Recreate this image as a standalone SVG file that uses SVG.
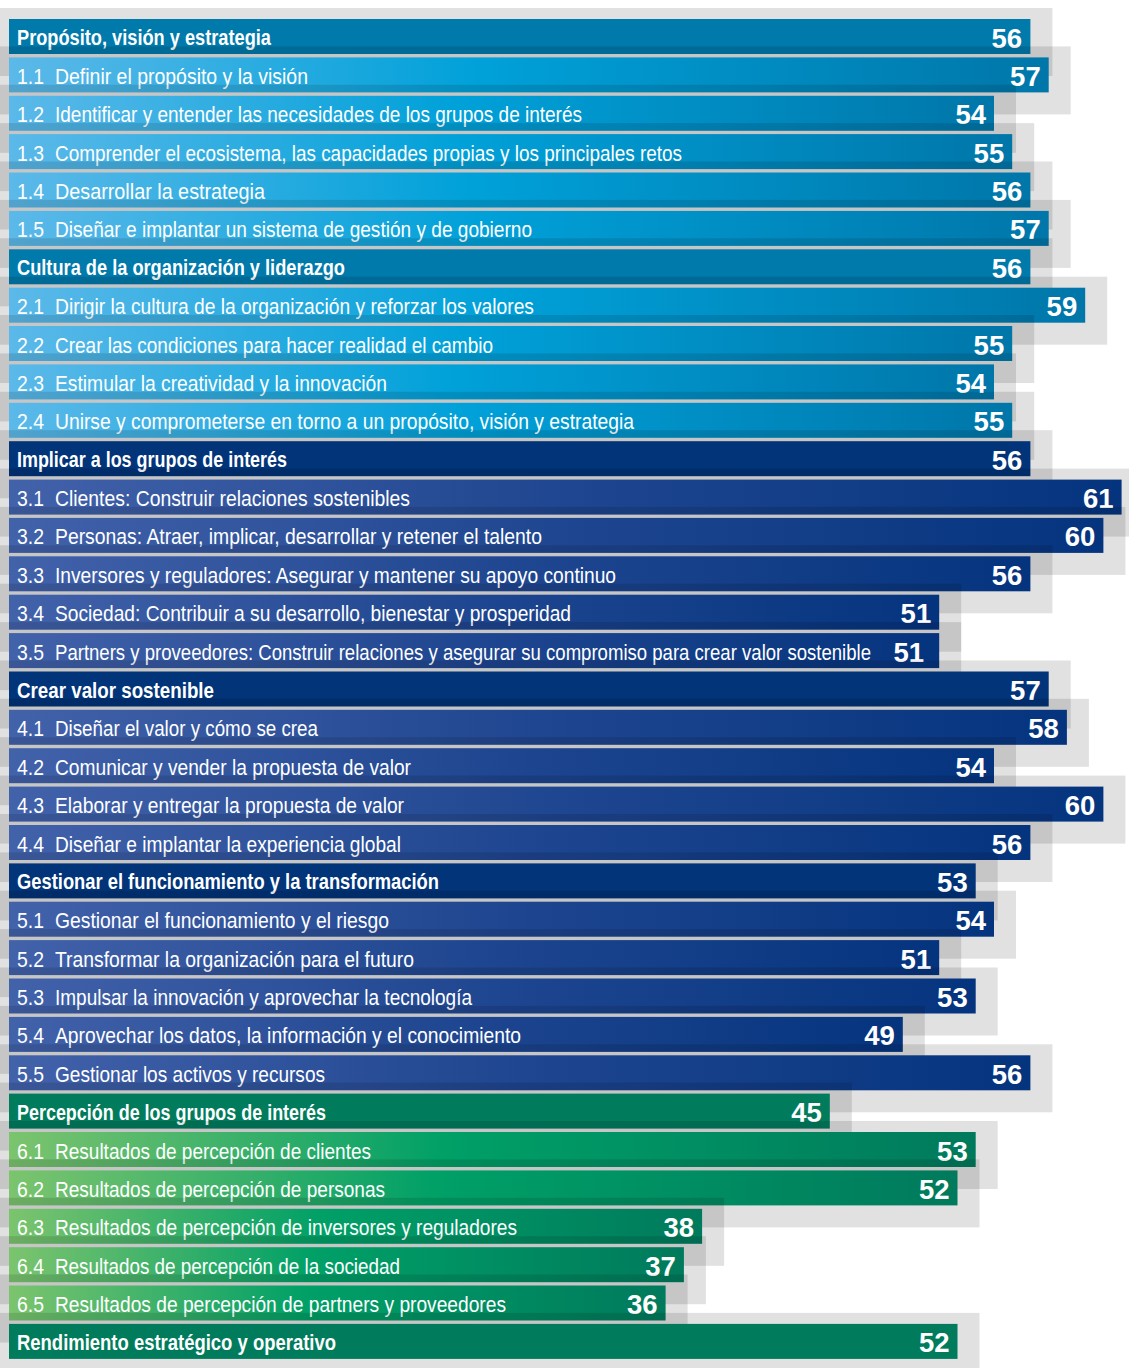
<svg xmlns="http://www.w3.org/2000/svg" width="1129" height="1368" viewBox="0 0 1129 1368">
<defs>
<linearGradient id="gBlue" x1="0" y1="0" x2="1" y2="0">
<stop offset="0" stop-color="#5cb9e9"/>
<stop offset="0.45" stop-color="#00a1d9"/>
<stop offset="1" stop-color="#0076a9"/>
</linearGradient>
<linearGradient id="gNavy" x1="0" y1="0" x2="1" y2="0">
<stop offset="0" stop-color="#4262aa"/>
<stop offset="0.5" stop-color="#1f4690"/>
<stop offset="1" stop-color="#05347e"/>
</linearGradient>
<linearGradient id="gGreen" x1="0" y1="0" x2="1" y2="0">
<stop offset="0" stop-color="#7cc46e"/>
<stop offset="0.45" stop-color="#00a067"/>
<stop offset="1" stop-color="#007a5c"/>
</linearGradient>
<style>
.sh{fill:#000;fill-opacity:0.118}
.h1{fill:#0079ab}
.h3{fill:#013478}
.h6{fill:#007b5c}
.b1{fill:url(#gBlue)}
.b3{fill:url(#gNavy)}
.b6{fill:url(#gGreen)}
text{fill:#fff;font-family:"Liberation Sans",Arial,sans-serif}
.ht{font-weight:bold;font-size:21.5px}
.lt{font-size:22px}
.nm{font-weight:bold;font-size:27.5px;text-anchor:end}
</style>
</defs>
<g id="connectors"/>
<g id="r0"><rect class="sh" x="0" y="8" width="1052.4" height="68"/><rect class="h1" x="9" y="19" width="1021.4" height="35"/><text class="ht" x="17" y="45" textLength="254" lengthAdjust="spacingAndGlyphs">Propósito, visión y estrategia</text><text class="nm" x="1022" y="47.5">56</text></g>
<g id="r1"><rect class="sh" x="0" y="46.4" width="1070.7" height="68"/><rect class="b1" x="9" y="57.4" width="1039.7" height="35"/><text class="lt" x="17" y="83.9" textLength="27" lengthAdjust="spacingAndGlyphs">1.1</text><text class="lt" x="55" y="83.9" textLength="253" lengthAdjust="spacingAndGlyphs">Definir el propósito y la visión</text><text class="nm" x="1040.7" y="85.9">57</text></g>
<g id="r2"><rect class="sh" x="0" y="84.8" width="1016" height="68"/><rect class="b1" x="9" y="95.8" width="985" height="35"/><text class="lt" x="17" y="122.3" textLength="27" lengthAdjust="spacingAndGlyphs">1.2</text><text class="lt" x="55" y="122.3" textLength="527" lengthAdjust="spacingAndGlyphs">Identificar y entender las necesidades de los grupos de interés</text><text class="nm" x="986" y="124.3">54</text></g>
<g id="r3"><rect class="sh" x="0" y="123.1" width="1034.2" height="68"/><rect class="b1" x="9" y="134.1" width="1003.2" height="35"/><text class="lt" x="17" y="160.6" textLength="27" lengthAdjust="spacingAndGlyphs">1.3</text><text class="lt" x="55" y="160.6" textLength="627" lengthAdjust="spacingAndGlyphs">Comprender el ecosistema, las capacidades propias y los principales retos</text><text class="nm" x="1004.2" y="162.6">55</text></g>
<g id="r4"><rect class="sh" x="0" y="161.5" width="1052.4" height="68"/><rect class="b1" x="9" y="172.5" width="1021.4" height="35"/><text class="lt" x="17" y="199" textLength="27" lengthAdjust="spacingAndGlyphs">1.4</text><text class="lt" x="55" y="199" textLength="210" lengthAdjust="spacingAndGlyphs">Desarrollar la estrategia</text><text class="nm" x="1022.4" y="201">56</text></g>
<g id="r5"><rect class="sh" x="0" y="199.9" width="1070.7" height="68"/><rect class="b1" x="9" y="210.9" width="1039.7" height="35"/><text class="lt" x="17" y="237.4" textLength="27" lengthAdjust="spacingAndGlyphs">1.5</text><text class="lt" x="55" y="237.4" textLength="477" lengthAdjust="spacingAndGlyphs">Diseñar e implantar un sistema de gestión y de gobierno</text><text class="nm" x="1040.7" y="239.4">57</text></g>
<g id="r6"><rect class="sh" x="0" y="238.3" width="1052.4" height="68"/><rect class="h1" x="9" y="249.3" width="1021.4" height="35"/><text class="ht" x="17" y="275.3" textLength="328" lengthAdjust="spacingAndGlyphs">Cultura de la organización y liderazgo</text><text class="nm" x="1022.4" y="277.8">56</text></g>
<g id="r7"><rect class="sh" x="0" y="276.7" width="1107.2" height="68"/><rect class="b1" x="9" y="287.7" width="1076.2" height="35"/><text class="lt" x="17" y="314.2" textLength="27" lengthAdjust="spacingAndGlyphs">2.1</text><text class="lt" x="55" y="314.2" textLength="479" lengthAdjust="spacingAndGlyphs">Dirigir la cultura de la organización y reforzar los valores</text><text class="nm" x="1077.2" y="316.2">59</text></g>
<g id="r8"><rect class="sh" x="0" y="315" width="1034.2" height="68"/><rect class="b1" x="9" y="326" width="1003.2" height="35"/><text class="lt" x="17" y="352.5" textLength="27" lengthAdjust="spacingAndGlyphs">2.2</text><text class="lt" x="55" y="352.5" textLength="438" lengthAdjust="spacingAndGlyphs">Crear las condiciones para hacer realidad el cambio</text><text class="nm" x="1004.2" y="354.5">55</text></g>
<g id="r9"><rect class="sh" x="0" y="353.4" width="1016" height="68"/><rect class="b1" x="9" y="364.4" width="985" height="35"/><text class="lt" x="17" y="390.9" textLength="27" lengthAdjust="spacingAndGlyphs">2.3</text><text class="lt" x="55" y="390.9" textLength="332" lengthAdjust="spacingAndGlyphs">Estimular la creatividad y la innovación</text><text class="nm" x="986" y="392.9">54</text></g>
<g id="r10"><rect class="sh" x="0" y="391.8" width="1034.2" height="68"/><rect class="b1" x="9" y="402.8" width="1003.2" height="35"/><text class="lt" x="17" y="429.3" textLength="27" lengthAdjust="spacingAndGlyphs">2.4</text><text class="lt" x="55" y="429.3" textLength="579" lengthAdjust="spacingAndGlyphs">Unirse y comprometerse en torno a un propósito, visión y estrategia</text><text class="nm" x="1004.2" y="431.3">55</text></g>
<g id="r11"><rect class="sh" x="0" y="430.2" width="1052.4" height="68"/><rect class="h3" x="9" y="441.2" width="1021.4" height="35"/><text class="ht" x="17" y="467.2" textLength="270" lengthAdjust="spacingAndGlyphs">Implicar a los grupos de interés</text><text class="nm" x="1022.4" y="469.7">56</text></g>
<g id="r12"><rect class="sh" x="0" y="468.6" width="1143.6" height="68"/><rect class="b3" x="9" y="479.6" width="1112.6" height="35"/><text class="lt" x="17" y="506.1" textLength="27" lengthAdjust="spacingAndGlyphs">3.1</text><text class="lt" x="55" y="506.1" textLength="355" lengthAdjust="spacingAndGlyphs">Clientes: Construir relaciones sostenibles</text><text class="nm" x="1113.6" y="508.1">61</text></g>
<g id="r13"><rect class="sh" x="0" y="506.9" width="1125.4" height="68"/><rect class="b3" x="9" y="517.9" width="1094.4" height="35"/><text class="lt" x="17" y="544.4" textLength="27" lengthAdjust="spacingAndGlyphs">3.2</text><text class="lt" x="55" y="544.4" textLength="487" lengthAdjust="spacingAndGlyphs">Personas: Atraer, implicar, desarrollar y retener el talento</text><text class="nm" x="1095.4" y="546.4">60</text></g>
<g id="r14"><rect class="sh" x="0" y="545.3" width="1052.4" height="68"/><rect class="b3" x="9" y="556.3" width="1021.4" height="35"/><text class="lt" x="17" y="582.8" textLength="27" lengthAdjust="spacingAndGlyphs">3.3</text><text class="lt" x="55" y="582.8" textLength="561" lengthAdjust="spacingAndGlyphs">Inversores y reguladores: Asegurar y mantener su apoyo continuo</text><text class="nm" x="1022.4" y="584.8">56</text></g>
<g id="r15"><rect class="sh" x="0" y="583.7" width="961.2" height="68"/><rect class="b3" x="9" y="594.7" width="930.2" height="35"/><text class="lt" x="17" y="621.2" textLength="27" lengthAdjust="spacingAndGlyphs">3.4</text><text class="lt" x="55" y="621.2" textLength="516" lengthAdjust="spacingAndGlyphs">Sociedad: Contribuir a su desarrollo, bienestar y prosperidad</text><text class="nm" x="931.2" y="623.2">51</text></g>
<g id="r16"><rect class="sh" x="0" y="622.1" width="961.2" height="68"/><rect class="b3" x="9" y="633.1" width="930.2" height="35"/><text class="lt" x="17" y="659.6" textLength="27" lengthAdjust="spacingAndGlyphs">3.5</text><text class="lt" x="55" y="659.6" textLength="816" lengthAdjust="spacingAndGlyphs">Partners y proveedores: Construir relaciones y asegurar su compromiso para crear valor sostenible</text><text class="nm" x="924" y="661.6">51</text></g>
<g id="r17"><rect class="sh" x="0" y="660.5" width="1070.7" height="68"/><rect class="h3" x="9" y="671.5" width="1039.7" height="35"/><text class="ht" x="17" y="697.5" textLength="197" lengthAdjust="spacingAndGlyphs">Crear valor sostenible</text><text class="nm" x="1040.7" y="700">57</text></g>
<g id="r18"><rect class="sh" x="0" y="698.8" width="1088.9" height="68"/><rect class="b3" x="9" y="709.8" width="1057.9" height="35"/><text class="lt" x="17" y="736.3" textLength="27" lengthAdjust="spacingAndGlyphs">4.1</text><text class="lt" x="55" y="736.3" textLength="263" lengthAdjust="spacingAndGlyphs">Diseñar el valor y cómo se crea</text><text class="nm" x="1058.9" y="738.3">58</text></g>
<g id="r19"><rect class="sh" x="0" y="737.2" width="1016" height="68"/><rect class="b3" x="9" y="748.2" width="985" height="35"/><text class="lt" x="17" y="774.7" textLength="27" lengthAdjust="spacingAndGlyphs">4.2</text><text class="lt" x="55" y="774.7" textLength="356" lengthAdjust="spacingAndGlyphs">Comunicar y vender la propuesta de valor</text><text class="nm" x="986" y="776.7">54</text></g>
<g id="r20"><rect class="sh" x="0" y="775.6" width="1125.4" height="68"/><rect class="b3" x="9" y="786.6" width="1094.4" height="35"/><text class="lt" x="17" y="813.1" textLength="27" lengthAdjust="spacingAndGlyphs">4.3</text><text class="lt" x="55" y="813.1" textLength="349" lengthAdjust="spacingAndGlyphs">Elaborar y entregar la propuesta de valor</text><text class="nm" x="1095.4" y="815.1">60</text></g>
<g id="r21"><rect class="sh" x="0" y="814" width="1052.4" height="68"/><rect class="b3" x="9" y="825" width="1021.4" height="35"/><text class="lt" x="17" y="851.5" textLength="27" lengthAdjust="spacingAndGlyphs">4.4</text><text class="lt" x="55" y="851.5" textLength="346" lengthAdjust="spacingAndGlyphs">Diseñar e implantar la experiencia global</text><text class="nm" x="1022.4" y="853.5">56</text></g>
<g id="r22"><rect class="sh" x="0" y="852.4" width="997.7" height="68"/><rect class="h3" x="9" y="863.4" width="966.7" height="35"/><text class="ht" x="17" y="889.4" textLength="422" lengthAdjust="spacingAndGlyphs">Gestionar el funcionamiento y la transformación</text><text class="nm" x="967.7" y="891.9">53</text></g>
<g id="r23"><rect class="sh" x="0" y="890.7" width="1016" height="68"/><rect class="b3" x="9" y="901.7" width="985" height="35"/><text class="lt" x="17" y="928.2" textLength="27" lengthAdjust="spacingAndGlyphs">5.1</text><text class="lt" x="55" y="928.2" textLength="334" lengthAdjust="spacingAndGlyphs">Gestionar el funcionamiento y el riesgo</text><text class="nm" x="986" y="930.2">54</text></g>
<g id="r24"><rect class="sh" x="0" y="929.1" width="961.2" height="68"/><rect class="b3" x="9" y="940.1" width="930.2" height="35"/><text class="lt" x="17" y="966.6" textLength="27" lengthAdjust="spacingAndGlyphs">5.2</text><text class="lt" x="55" y="966.6" textLength="359" lengthAdjust="spacingAndGlyphs">Transformar la organización para el futuro</text><text class="nm" x="931.2" y="968.6">51</text></g>
<g id="r25"><rect class="sh" x="0" y="967.5" width="997.7" height="68"/><rect class="b3" x="9" y="978.5" width="966.7" height="35"/><text class="lt" x="17" y="1005" textLength="27" lengthAdjust="spacingAndGlyphs">5.3</text><text class="lt" x="55" y="1005" textLength="417" lengthAdjust="spacingAndGlyphs">Impulsar la innovación y aprovechar la tecnología</text><text class="nm" x="967.7" y="1007">53</text></g>
<g id="r26"><rect class="sh" x="0" y="1005.9" width="924.8" height="68"/><rect class="b3" x="9" y="1016.9" width="893.8" height="35"/><text class="lt" x="17" y="1043.4" textLength="27" lengthAdjust="spacingAndGlyphs">5.4</text><text class="lt" x="55" y="1043.4" textLength="466" lengthAdjust="spacingAndGlyphs">Aprovechar los datos, la información y el conocimiento</text><text class="nm" x="894.8" y="1045.4">49</text></g>
<g id="r27"><rect class="sh" x="0" y="1044.3" width="1052.4" height="68"/><rect class="b3" x="9" y="1055.3" width="1021.4" height="35"/><text class="lt" x="17" y="1081.8" textLength="27" lengthAdjust="spacingAndGlyphs">5.5</text><text class="lt" x="55" y="1081.8" textLength="270" lengthAdjust="spacingAndGlyphs">Gestionar los activos y recursos</text><text class="nm" x="1022.4" y="1083.8">56</text></g>
<g id="r28"><rect class="sh" x="0" y="1082.6" width="851.8" height="68"/><rect class="h6" x="9" y="1093.6" width="820.8" height="35"/><text class="ht" x="17" y="1119.6" textLength="309" lengthAdjust="spacingAndGlyphs">Percepción de los grupos de interés</text><text class="nm" x="821.8" y="1122.1">45</text></g>
<g id="r29"><rect class="sh" x="0" y="1121" width="997.7" height="68"/><rect class="b6" x="9" y="1132" width="966.7" height="35"/><text class="lt" x="17" y="1158.5" textLength="27" lengthAdjust="spacingAndGlyphs">6.1</text><text class="lt" x="55" y="1158.5" textLength="316" lengthAdjust="spacingAndGlyphs">Resultados de percepción de clientes</text><text class="nm" x="967.7" y="1160.5">53</text></g>
<g id="r30"><rect class="sh" x="0" y="1159.4" width="979.5" height="68"/><rect class="b6" x="9" y="1170.4" width="948.5" height="35"/><text class="lt" x="17" y="1196.9" textLength="27" lengthAdjust="spacingAndGlyphs">6.2</text><text class="lt" x="55" y="1196.9" textLength="330" lengthAdjust="spacingAndGlyphs">Resultados de percepción de personas</text><text class="nm" x="949.5" y="1198.9">52</text></g>
<g id="r31"><rect class="sh" x="0" y="1197.8" width="724.1" height="68"/><rect class="b6" x="9" y="1208.8" width="693.1" height="35"/><text class="lt" x="17" y="1235.3" textLength="27" lengthAdjust="spacingAndGlyphs">6.3</text><text class="lt" x="55" y="1235.3" textLength="462" lengthAdjust="spacingAndGlyphs">Resultados de percepción de inversores y reguladores</text><text class="nm" x="694.1" y="1237.3">38</text></g>
<g id="r32"><rect class="sh" x="0" y="1236.2" width="705.9" height="68"/><rect class="b6" x="9" y="1247.2" width="674.9" height="35"/><text class="lt" x="17" y="1273.7" textLength="27" lengthAdjust="spacingAndGlyphs">6.4</text><text class="lt" x="55" y="1273.7" textLength="345" lengthAdjust="spacingAndGlyphs">Resultados de percepción de la sociedad</text><text class="nm" x="675.9" y="1275.7">37</text></g>
<g id="r33"><rect class="sh" x="0" y="1274.5" width="687.6" height="68"/><rect class="b6" x="9" y="1285.5" width="656.6" height="35"/><text class="lt" x="17" y="1312" textLength="27" lengthAdjust="spacingAndGlyphs">6.5</text><text class="lt" x="55" y="1312" textLength="451" lengthAdjust="spacingAndGlyphs">Resultados de percepción de partners y proveedores</text><text class="nm" x="657.6" y="1314">36</text></g>
<g id="r34"><rect class="sh" x="0" y="1312.9" width="979.5" height="68"/><rect class="h6" x="9" y="1323.9" width="948.5" height="35"/><text class="ht" x="17" y="1349.9" textLength="319" lengthAdjust="spacingAndGlyphs">Rendimiento estratégico y operativo</text><text class="nm" x="949.5" y="1352.4">52</text></g>
</svg>
